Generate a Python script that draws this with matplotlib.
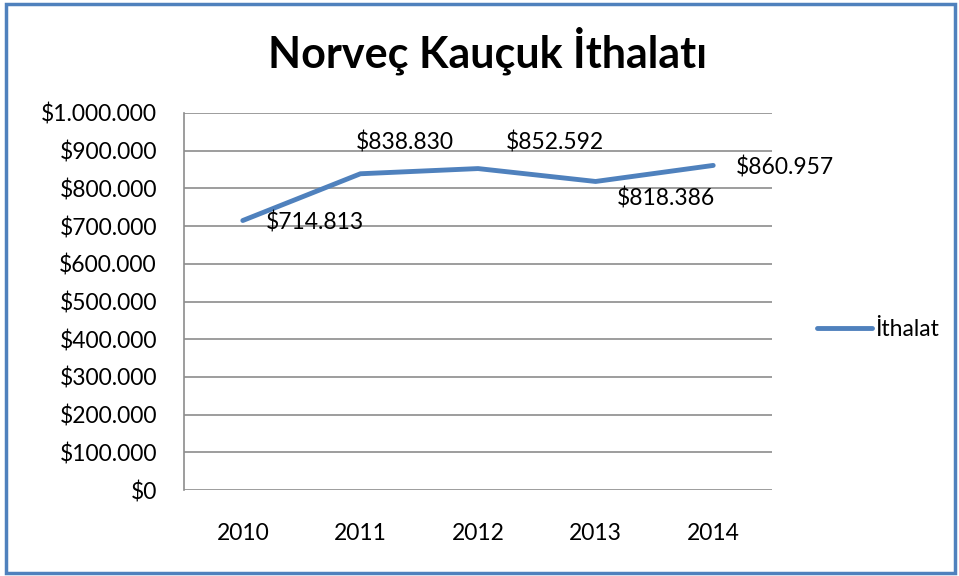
import matplotlib
matplotlib.use("Agg")
import matplotlib.pyplot as plt
from matplotlib.patches import Rectangle

years = ["2010", "2011", "2012", "2013", "2014"]
imports = [714813, 838830, 852592, 818386, 860957]
labels = ["$714.813", "$838.830", "$852.592", "$818.386", "$860.957"]
# label offsets in pixels from each point
offsets = [(72, -2), (44, 31), (77, 26), (70, -17), (72, -2)]

plt.rcParams['font.family'] = ['Lato', 'DejaVu Sans']

fig = plt.figure(figsize=(9.59, 5.76), dpi=100)
ax = fig.add_axes([184 / 959, 1 - 490 / 576, 588 / 959, 377 / 576])

blue = "#4F81BD"
x = list(range(len(years)))
line, = ax.plot(x, imports, color=blue, lw=3.5, solid_capstyle="round",
                solid_joinstyle="round", label="İthalat", zorder=3)

for xi, yi, lab, (dx, dy) in zip(x, imports, labels, offsets):
    ax.annotate(lab, (xi, yi), xytext=(dx, dy), textcoords="offset pixels",
                ha="center", va="center", fontsize=16.5, color="#000000", zorder=4)

ax.set_xlim(-0.5, 4.5)
ax.set_ylim(0, 1000000)
ax.set_yticks(range(0, 1000001, 100000))
ax.set_yticklabels(["$0"] + ["${:,}".format(v).replace(",", ".") for v in range(100000, 1000001, 100000)])
ax.set_xticks(x)
ax.set_xticklabels(years)
ax.tick_params(axis="y", length=0, pad=19.5, labelsize=16.5)
ax.tick_params(axis="x", length=0, pad=23.5, labelsize=16.5)
ax.grid(axis="y", color="#8c8c8c", lw=1.2)
ax.set_axisbelow(True)
for side in ["top", "right", "bottom"]:
    ax.spines[side].set_visible(False)
ax.spines["left"].set_color("#8c8c8c")
ax.spines["left"].set_linewidth(1.2)

fig.text(488 / 959, 1 - 51 / 576, "Norveç Kauçuk İthalatı", ha="center", va="center",
         fontsize=31, fontweight="bold")

fig.legend(handles=[line], loc="center left", bbox_to_anchor=(796 / 959, 1 - 330 / 576),
           frameon=False, fontsize=16.5, handlelength=2.4, handletextpad=0.15)

fig.patches.append(Rectangle((6 / 959, 3 / 576), 949 / 959, 569 / 576, transform=fig.transFigure,
                             fill=False, edgecolor=blue, lw=2.5))

fig.savefig("out.png", dpi=100)
